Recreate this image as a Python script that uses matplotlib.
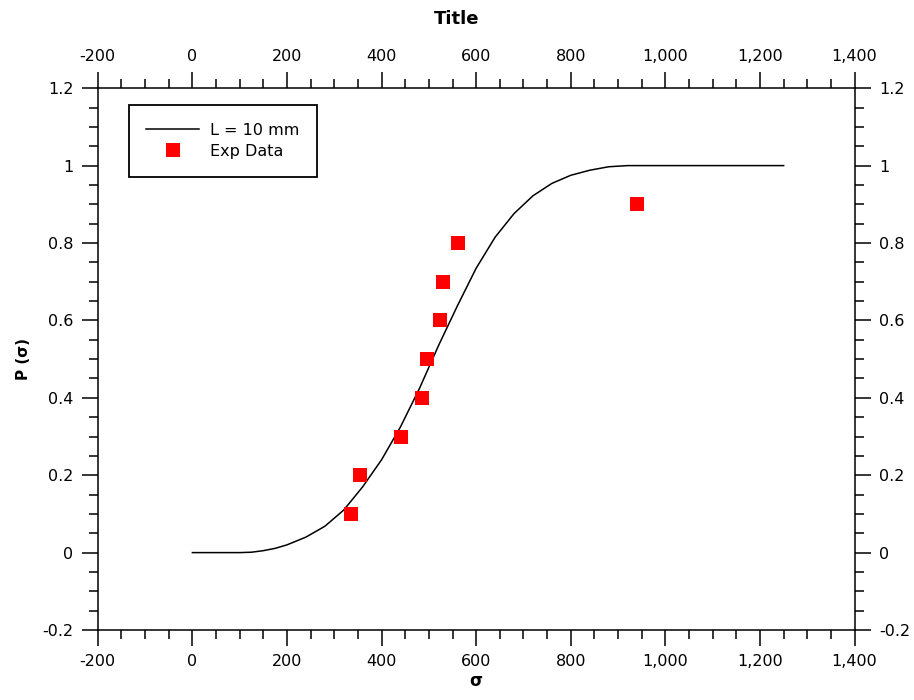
import matplotlib.pyplot as plt
import numpy as np
from matplotlib.ticker import FixedLocator, FuncFormatter

# fitted curve
curve_x = [0, 50, 100, 125, 150, 175, 200, 240, 280, 320, 360, 400, 440, 480, 520,
           560, 600, 640, 680, 720, 760, 800, 840, 880, 920, 1000, 1100, 1250]
curve_y = [0, 0, 0, 0.001, 0.005, 0.011, 0.02, 0.04, 0.068, 0.11, 0.17, 0.24, 0.325, 0.424, 0.534,
           0.637, 0.735, 0.815, 0.876, 0.922, 0.954, 0.975, 0.988, 0.997, 1.0, 1.0, 1.0, 1.0]

# experimental points
exp_x = [336, 355, 440, 486, 495, 524, 529, 562, 941]
exp_y = [0.1, 0.2, 0.3, 0.4, 0.5, 0.6, 0.7, 0.8, 0.9]

x_major = [-200, 0, 200, 400, 600, 800, 1000, 1200, 1400]
y_major = [-0.2, 0, 0.2, 0.4, 0.6, 0.8, 1.0, 1.2]

plt.rcParams['font.family'] = 'DejaVu Sans'
plt.rcParams['font.size'] = 11.5

fig = plt.figure(figsize=(9.14, 7.0), dpi=100)
ax = fig.add_axes([0.107, 0.1, 0.828, 0.774])

ax.plot(curve_x, curve_y, color='black', lw=1.1, label='L = 10 mm')
ax.plot(exp_x, exp_y, linestyle='none', marker='s', markersize=10.3,
        color='#ff0000', markeredgewidth=0, label='Exp Data')

ax.set_xlim(-200, 1400)
ax.set_ylim(-0.2, 1.2)

ax.xaxis.set_major_locator(FixedLocator(x_major))
ax.xaxis.set_minor_locator(FixedLocator(np.arange(-200, 1401, 50)))
ax.yaxis.set_major_locator(FixedLocator(y_major))
ax.yaxis.set_minor_locator(FixedLocator(np.round(np.arange(-0.2, 1.21, 0.05), 2)))
ax.xaxis.set_major_formatter(FuncFormatter(lambda v, p: '{:,.0f}'.format(v)))
ax.yaxis.set_major_formatter(FuncFormatter(lambda v, p: '{:g}'.format(round(v, 2))))

ax.tick_params(which='both', direction='out', top=True, right=True,
               labeltop=True, labelright=True, width=1.1, color='black')
ax.tick_params(which='major', length=11.5, pad=6)
ax.tick_params(which='minor', length=6.5)
for s in ax.spines.values():
    s.set_linewidth(1.1)

ax.set_xlabel('σ', fontweight='bold', fontsize=12, labelpad=2)
ax.set_ylabel('P (σ)', fontweight='bold', fontsize=11, labelpad=8)
fig.text(0.5, 0.973, 'Title', ha='center', va='center', fontweight='bold', fontsize=13)

leg = ax.legend(loc='upper left', bbox_to_anchor=(0.041, 0.969), frameon=True,
                fancybox=False, edgecolor='black', framealpha=1, fontsize=11.5,
                handlelength=3.3, handletextpad=0.7, borderpad=1.1,
                labelspacing=0.4, borderaxespad=0)
leg.get_frame().set_linewidth(1.3)

plt.savefig('out.png', dpi=100)
